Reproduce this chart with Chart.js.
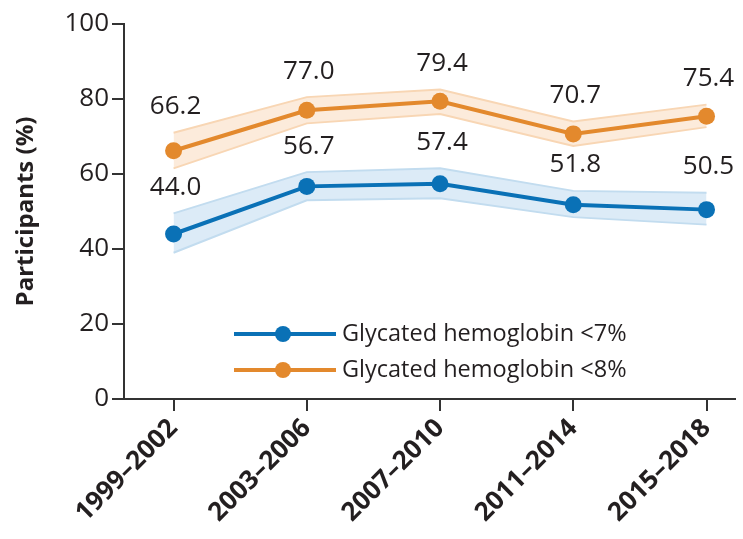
<!DOCTYPE html>
<html>
<head>
<meta charset="utf-8">
<script src="https://cdn.jsdelivr.net/npm/chart.js@4"></script>
<style>
  html, body { margin: 0; padding: 0; background: #fff; }
  #wrap { width: 743px; height: 539px; }
</style>
</head>
<body>
<div id="wrap"><canvas id="chart" width="743" height="539"></canvas></div>
<script>
// survey periods
const periods = ["1999\u20132002", "2003\u20132006", "2007\u20132010", "2011\u20132014", "2015\u20132018"];

// glycated hemoglobin <7% (estimate and band)
const below7 = [44.0, 56.7, 57.4, 51.8, 50.5];
const below7Low = [39.0, 53.0, 53.5, 48.5, 46.5];
const below7High = [49.5, 60.5, 61.5, 55.5, 55.0];

// glycated hemoglobin <8%
const below8 = [66.2, 77.0, 79.4, 70.7, 75.4];
const below8Low = [61.5, 73.5, 76.0, 67.5, 72.5];
const below8High = [71.0, 80.5, 82.5, 74.0, 78.5];

const yTicks = [0, 20, 40, 60, 80, 100];

const BLUE = "#0a71b6";
const ORANGE = "#e3892d";
const TEXT = "#231f20";
const FONT = "'Open Sans', sans-serif";

const pts = arr => arr.map((v, i) => ({ x: i, y: v }));

// value labels above the upper band edge
const valueLabels = {
    id: "valueLabels",
    afterDatasetsDraw(chart) {
        const { ctx, scales: { x, y } } = chart;
        ctx.save();
        ctx.font = "26px " + FONT;
        ctx.fillStyle = TEXT;
        ctx.textAlign = "center";
        ctx.textBaseline = "middle";
        [[below7, below7High], [below8, below8High]].forEach(([vals, hi]) => {
            vals.forEach((v, i) => {
                ctx.fillText(v.toFixed(1), x.getPixelForValue(i) + 2, y.getPixelForValue(hi[i]) - 26);
            });
        });
        ctx.restore();
    }
};

// legend drawn inside the plot
const insideLegend = {
    id: "insideLegend",
    afterDraw(chart) {
        const { ctx } = chart;
        const rows = [
            { label: "Glycated hemoglobin <7%", color: BLUE },
            { label: "Glycated hemoglobin <8%", color: ORANGE }
        ];
        ctx.save();
        rows.forEach((r, k) => {
            const yy = 334 + k * 36;
            ctx.strokeStyle = r.color;
            ctx.lineWidth = 4;
            ctx.beginPath();
            ctx.moveTo(234, yy);
            ctx.lineTo(336, yy);
            ctx.stroke();
            ctx.fillStyle = r.color;
            ctx.beginPath();
            ctx.arc(283, yy, 8, 0, Math.PI * 2);
            ctx.fill();
            ctx.fillStyle = TEXT;
            ctx.font = "23.5px " + FONT;
            ctx.textBaseline = "middle";
            ctx.textAlign = "left";
            ctx.fillText(r.label, 342, yy);
        });
        ctx.restore();
    }
};

const band = (data, edge, fill, fillTo) => ({
    data: pts(data),
    borderColor: edge,
    borderWidth: 2,
    backgroundColor: fill,
    pointRadius: 0,
    fill: fillTo,
    tension: 0,
    order: 2
});

const line = (label, data, color) => ({
    label,
    data: pts(data),
    borderColor: color,
    backgroundColor: color,
    borderWidth: 4,
    pointRadius: 8.5,
    pointHoverRadius: 8.5,
    pointBorderWidth: 0,
    fill: false,
    tension: 0,
    order: 1
});

new Chart(document.getElementById("chart"), {
    type: "line",
    data: {
        datasets: [
            band(below7High, "#c2dcef", "#dcebf7", false),
            band(below7Low, "#c2dcef", "#dcebf7", "-1"),
            band(below8High, "#f8d6b4", "#fcebdb", false),
            band(below8Low, "#f8d6b4", "#fcebdb", "-1"),
            line("Glycated hemoglobin <7%", below7, BLUE),
            line("Glycated hemoglobin <8%", below8, ORANGE)
        ]
    },
    options: {
        responsive: false,
        animation: false,
        layout: { padding: { top: 24, right: 2, left: 0, bottom: 0 } },
        plugins: {
            legend: { display: false },
            tooltip: { enabled: false }
        },
        scales: {
            x: {
                type: "linear",
                min: -0.372,
                max: 4.21,
                afterBuildTicks: s => { s.ticks = periods.map((_, i) => ({ value: i })); },
                afterFit: s => { s.height = 140; },
                border: { display: true, color: "#333", width: 2 },
                grid: { display: true, drawOnChartArea: false, drawTicks: true, tickLength: 12, color: "#333", lineWidth: 2 },
                ticks: {
                    autoSkip: false,
                    minRotation: 45,
                    maxRotation: 45,
                    padding: 2,
                    color: TEXT,
                    font: { family: FONT, size: 26, weight: "bold" },
                    callback: v => periods[v]
                }
            },
            y: {
                min: 0,
                max: 100,
                afterBuildTicks: s => { s.ticks = yTicks.map(v => ({ value: v })); },
                afterFit: s => { s.width = 124; },
                border: { display: true, color: "#333", width: 2 },
                grid: { display: true, drawOnChartArea: false, drawTicks: true, tickLength: 12, color: "#333", lineWidth: 2 },
                ticks: {
                    padding: 3,
                    color: TEXT,
                    font: { family: FONT, size: 26 }
                },
                title: {
                    display: true,
                    text: "Participants (%)",
                    color: TEXT,
                    padding: { top: 12, bottom: 4 },
                    font: { family: FONT, size: 24, weight: "bold" }
                }
            }
        }
    },
    plugins: [valueLabels, insideLegend]
});
</script>
</body>
</html>
